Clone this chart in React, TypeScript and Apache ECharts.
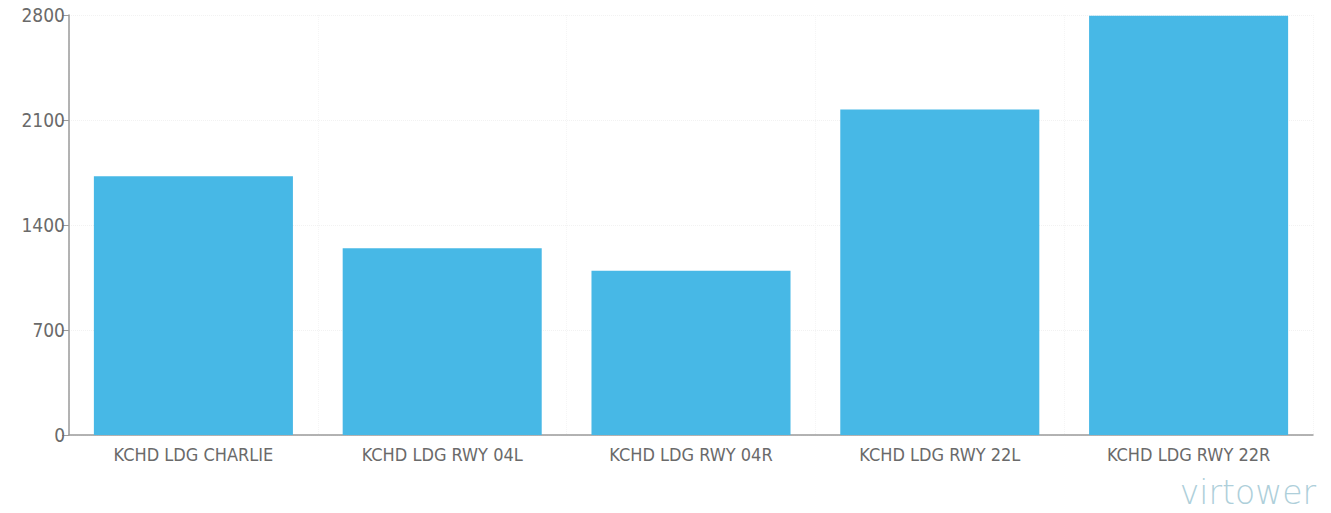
import React, { useEffect, useRef } from "react";
import * as echarts from "echarts";

const categories = [
  "KCHD LDG CHARLIE",
  "KCHD LDG RWY 04L",
  "KCHD LDG RWY 04R",
  "KCHD LDG RWY 22L",
  "KCHD LDG RWY 22R",
];
const values = [1725, 1245, 1095, 2170, 2795];
const yTicks = [0, 700, 1400, 2100, 2800];

export default function App() {
  const ref = useRef<HTMLDivElement>(null);
  useEffect(() => {
    if (!ref.current) return;
    const chart = echarts.init(ref.current, undefined, { renderer: "svg" });
    chart.setOption({
      animation: false,
      backgroundColor: "#ffffff",
      grid: { left: 69, right: 18, top: 15, bottom: 78, containLabel: false },
      xAxis: {
        type: "category",
        data: categories,
        axisLine: { lineStyle: { color: "#9a9a9a", width: 1.5 } },
        axisTick: { alignWithLabel: true, inside: true, length: 6, lineStyle: { color: "#8a8a8a" } },
        axisLabel: {
          color: "#6a6a6a",
          fontSize: 18,
          fontFamily: "DejaVu Sans Condensed",
          margin: 10,
        },
        splitLine: { show: true, lineStyle: { color: "#f5f5f5", type: "dotted" } },
      },
      yAxis: {
        type: "value",
        min: 0,
        max: yTicks[yTicks.length - 1],
        interval: yTicks[1] - yTicks[0],
        axisLine: { show: true, lineStyle: { color: "#9a9a9a", width: 1.5 } },
        axisTick: { show: true, length: 7, lineStyle: { color: "#9a9a9a" } },
        axisLabel: {
          color: "#6a6a6a",
          fontSize: 19,
          fontFamily: "DejaVu Sans Condensed",
          margin: 4,
          formatter: (v: number) => String(v),
        },
        splitLine: { show: true, lineStyle: { color: "#f2f2f2", type: "dotted" } },
      },
      series: [
        {
          type: "bar",
          data: values,
          barCategoryGap: "20%",
          itemStyle: { color: "#47b8e6" },
        },
      ],
      graphic: [
        {
          type: "text",
          right: 15,
          top: 476,
          style: {
            text: "virtower",
            fill: "#aecfda",
            fontSize: 33,
            fontFamily: "DejaVu Sans",
            fontWeight: 200,
          },
        },
      ],
    });
    return () => chart.dispose();
  }, []);
  return (
    <div
      ref={ref}
      style={{ position: "fixed", left: 0, top: 0, width: 1331, height: 513 }}
    />
  );
}
